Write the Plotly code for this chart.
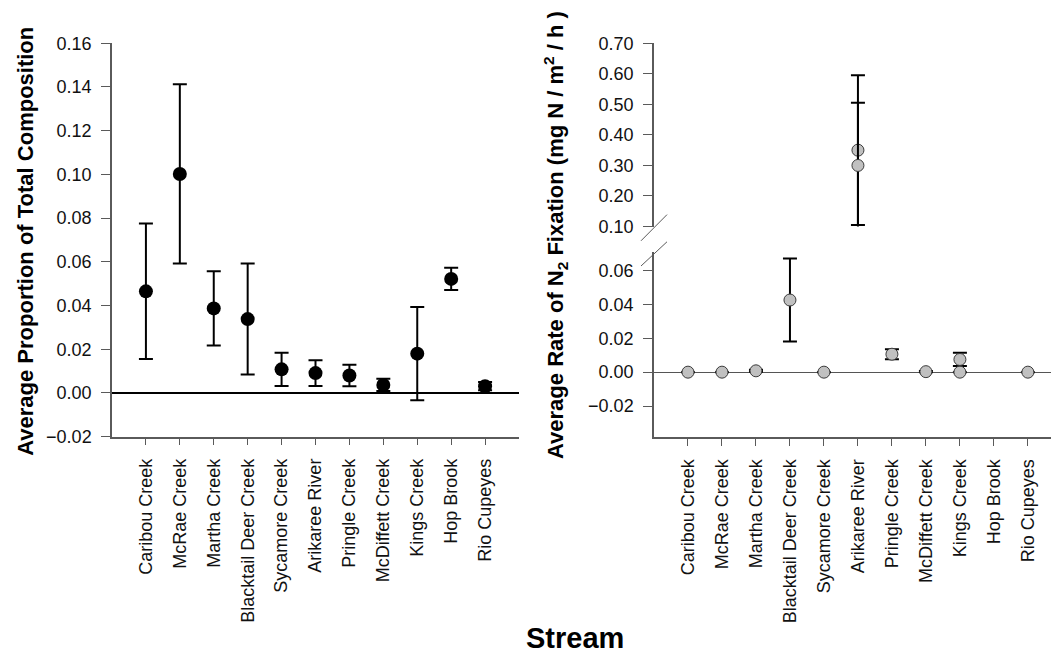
import plotly.graph_objects as go

W, H = 1051, 661

streams = ["Caribou Creek", "McRae Creek", "Martha Creek", "Blacktail Deer Creek",
           "Sycamore Creek", "Arikaree River", "Pringle Creek", "McDiffett Creek",
           "Kings Creek", "Hop Brook", "Rio Cupeyes"]
pos = list(range(len(streams)))

# Left panel: average proportion of total composition (mean +/- error)
prop_mean = [0.0465, 0.1002, 0.0387, 0.0338, 0.0108, 0.0091, 0.0080, 0.0037, 0.0180, 0.0522, 0.0031]
prop_err = [0.0310, 0.0410, 0.0170, 0.0254, 0.0076, 0.0059, 0.0049, 0.0028, 0.0213, 0.0051, 0.0019]

# Right panel: average N2 fixation rate, two sets of measurements
fix_mean_a = [0.0, 0.0, 0.0008, 0.0426, 0.0, 0.35, 0.0106, 0.0003, 0.0075, None, 0.0]
fix_err_a = [0.0, 0.0, 0.0006, 0.0245, 0.0, 0.245, 0.0029, 0.0004, 0.0039, None, 0.0]
fix_mean_b = [None, None, None, None, None, 0.30, None, None, 0.0, None, None]
fix_err_b = [None, None, None, None, None, 0.205, None, None, 0.0, None, None]

FONT = "Arial, Liberation Sans, sans-serif"
AX = "#5a5a5a"


def px_x(p):
    return p / W


def px_y(p):
    return 1 - p / H


fig = go.Figure()

# left panel
fig.add_trace(go.Scatter(
    x=pos, y=prop_mean, mode="markers", xaxis="x", yaxis="y",
    marker=dict(size=14, color="black"),
    error_y=dict(type="data", array=prop_err, visible=True,
                 color="black", thickness=2, width=7),
))

# right panel, drawn on both halves of the broken axis
for ya in ("y3", "y4"):
    for m, e in ((fix_mean_a, fix_err_a), (fix_mean_b, fix_err_b)):
        fig.add_trace(go.Scatter(
            x=pos, y=m, mode="markers", xaxis="x2", yaxis=ya,
            marker=dict(size=12, color="#c0c0c0", line=dict(color="#3a3a3a", width=1)),
            error_y=dict(type="data", array=e, visible=True,
                         color="black", thickness=2, width=7),
        ))

tickfont = dict(family=FONT, size=18, color="#111")

common_x = dict(
    tickvals=pos, ticktext=streams, tickangle=-90, ticks="outside", ticklen=7,
    tickcolor=AX, showline=True, linecolor=AX, linewidth=1.5, showgrid=False,
    zeroline=False, tickfont=tickfont, ticklabelstandoff=6,
)
common_y = dict(
    ticks="outside", ticklen=9, tickcolor=AX, showline=True, linecolor=AX,
    linewidth=1.5, showgrid=False, tickfont=tickfont, tickformat=".2f",
    ticklabelstandoff=6,
)

fig.update_layout(
    width=W, height=H,
    margin=dict(l=0, r=0, t=0, b=0),
    paper_bgcolor="white", plot_bgcolor="white",
    showlegend=False,
    xaxis=dict(domain=[px_x(112), px_x(519)], range=[-1, 11], anchor="y", **common_x),
    yaxis=dict(domain=[px_y(440), px_y(34.3)], range=[-0.02, 0.16], dtick=0.02, tick0=0,
               anchor="x", zeroline=True, zerolinecolor="black", zerolinewidth=2, **common_y),
    xaxis2=dict(domain=[px_x(654), 1.0], range=[-1, 10.68], anchor="y4", **common_x),
    yaxis3=dict(domain=[px_y(223.3), px_y(34.3)], range=[0.10, 0.70], dtick=0.1, tick0=0,
                anchor="x2", zeroline=False, **common_y),
    yaxis4=dict(domain=[px_y(440.7), px_y(250)], range=[-0.0385, 0.0707],
                tickvals=[-0.02, 0.0, 0.02, 0.04, 0.06], anchor="x2",
                zeroline=True, zerolinecolor="#555", zerolinewidth=1.3, **common_y),
)

# axis break marks
for (x0, y0, x1, y1) in ((641, 238, 667, 211), (641, 264, 667, 239)):
    fig.add_shape(type="line", xref="paper", yref="paper",
                  x0=px_x(x0), y0=px_y(y0), x1=px_x(x1), y1=px_y(y1),
                  line=dict(color=AX, width=1))

fig.add_annotation(
    text="<b>Average Proportion of Total Composition</b>", textangle=-90,
    xref="paper", yref="paper", x=px_x(26), y=px_y(239), xanchor="center", yanchor="middle",
    showarrow=False, font=dict(family=FONT, size=22, color="black"),
)
fig.add_annotation(
    text="<b>Average Rate of N<sub>2</sub> Fixation (mg N / m<sup>2</sup> / h )</b>", textangle=-90,
    xref="paper", yref="paper", x=px_x(556), y=px_y(232), xanchor="center", yanchor="middle",
    showarrow=False, font=dict(family=FONT, size=22, color="black"),
)
fig.add_annotation(
    text="<b>Stream</b>", xref="paper", yref="paper", x=px_x(575), y=px_y(648),
    xanchor="center", yanchor="middle", showarrow=False,
    font=dict(family=FONT, size=29, color="black"),
)

fig.write_html("out.html")
